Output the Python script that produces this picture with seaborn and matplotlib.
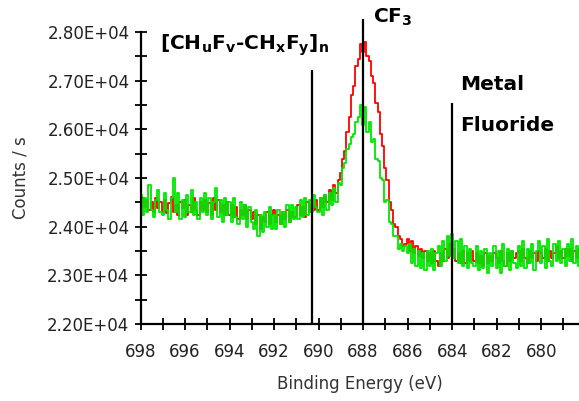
import numpy as np
import pandas as pd
import seaborn as sns
import matplotlib
matplotlib.use("Agg")
import matplotlib.pyplot as plt
from matplotlib.ticker import MultipleLocator, FuncFormatter

# binding energy grid, 0.1 eV steps from 698.0 down to 678.1
energy = np.round(np.arange(698.0, 678.05, -0.1), 1)

counts_red = [
    24250, 24600, 24400, 24550, 24350, 24500, 24300, 24600, 24380, 24500,
    24300, 24550, 24280, 24480, 24620, 24300, 24450, 24250, 24500, 24380,
    24550, 24250, 24450, 24300, 24600, 24350, 24250, 24500, 24350, 24550,
    24300, 24480, 24250, 24600, 24350, 24550, 24300, 24450, 24250, 24500,
    24250, 24450, 24200, 24400, 24150, 24350, 24250, 24450, 24150, 24350,
    24150, 24300, 24050, 24250, 23950, 24200, 24100, 24300, 24050, 24250,
    24350, 24100, 24250, 24050, 24300, 24150, 24350, 24100, 24300, 24200,
    24200, 24450, 24250, 24400, 24200, 24500, 24300, 24450, 24350, 24550,
    24350, 24600, 24400, 24650, 24500, 24750, 24550, 24850, 24700, 24950,
    25100, 25400, 25550, 25950, 26250, 26700, 26900, 27300, 27450, 27750,
    27600, 27800, 27500, 27400, 27100, 26950, 26550, 26350, 25900, 25650,
    25200, 24950, 24500, 24350, 24050, 24000, 23800, 23750, 23600, 23650,
    23750, 23500, 23700, 23450, 23600, 23400, 23550, 23350, 23500, 23300,
    23450, 23250, 23500, 23300, 23200, 23450, 23300, 23550, 23350, 23650,
    23400, 23550, 23300, 23450, 23250, 23500, 23250, 23450, 23300, 23500,
    23300, 23450, 23250, 23400, 23200, 23450, 23250, 23400, 23300, 23450,
    23350, 23250, 23500, 23300, 23200, 23450, 23300, 23500, 23350, 23450,
    23500, 23300, 23550, 23350, 23250, 23500, 23350, 23450, 23300, 23500,
    23450, 23350, 23550, 23300, 23500, 23350, 23450, 23600, 23350, 23500,
    23350, 23550, 23400, 23550, 23300, 23500, 23350, 23550, 23250, 23500,
]

counts_green = [
    24650, 24250, 24600, 24300, 24850, 24350, 24200, 24550, 24750, 24300,
    24250, 24700, 24350, 24150, 24600, 25000, 24300, 24700, 24150, 24550,
    24200, 24650, 24300, 24750, 24250, 24500, 24150, 24600, 24300, 24700,
    24250, 24600, 24150, 24500, 24800, 24200, 24550, 24100, 24600, 24250,
    24500, 24100, 24600, 24200, 24050, 24500, 24150, 24450, 24000, 24400,
    24100, 23950, 24350, 23800, 24250, 23900, 24300, 24000, 24400, 23950,
    24250, 23950, 24350, 24050, 24300, 24000, 24450, 24100, 24450, 24150,
    24400, 24150, 24550, 24200, 24600, 24250, 24550, 24300, 24650, 24400,
    24300, 24600, 24250, 24650, 24350, 24700, 24450, 24800, 24500, 24900,
    24850, 25200, 25300, 25600, 25700, 25850, 25900, 26150, 26250, 26500,
    26100, 26450, 25950, 26150, 25750, 25800, 25400, 25350, 25000, 24950,
    24500, 24550, 24100, 24050, 23800, 23800, 23550, 23650, 23500, 23600,
    23450, 23650, 23250, 23550, 23200, 23500, 23150, 23450, 23100, 23500,
    23200, 23550, 23100, 23450, 23600, 23200, 23700, 23300, 23800, 23400,
    23850, 23350, 23700, 23250, 23750, 23200, 23600, 23150, 23550, 23250,
    23200, 23600, 23100, 23500, 23150, 23550, 23050, 23450, 23200, 23600,
    23150, 23500, 23050, 23650, 23200, 23550, 23100, 23500, 23250, 23150,
    23600, 23200, 23700, 23150, 23550, 23250, 23650, 23100, 23500, 23700,
    23250, 23600, 23150, 23750, 23300, 23200, 23650, 23300, 23700, 23250,
    23550, 23200, 23650, 23300, 23750, 23250, 23600, 23200, 23550, 23650,
]

# reference lines for the assigned species
peak_energy = [690.3, 688.0, 684.0]
peak_top = [27220, 28270, 26540]

df = pd.concat([
    pd.DataFrame({'energy': energy, 'counts': counts_red, 'series': 'red'}),
    pd.DataFrame({'energy': energy, 'counts': counts_green, 'series': 'green'}),
])

sns.set_style("ticks")
plt.rcParams['font.family'] = ['DejaVu Sans']
plt.rcParams['mathtext.fontset'] = 'dejavusans'

fig = plt.figure(figsize=(5.79, 4.01), dpi=100)
ax = fig.add_axes([0.2427, 0.192, 0.7573, 0.728])

sns.lineplot(data=df, x='energy', y='counts', hue='series',
             hue_order=['red', 'green'],
             palette={'red': '#ff0000', 'green': '#00e600'},
             estimator=None, sort=False, drawstyle='steps-mid',
             linewidth=1.3, legend=False, ax=ax)

ax.vlines(peak_energy, 22000, peak_top, colors='black', linewidth=1.6,
          clip_on=False, zorder=5)

ax.set_xlim(698, 678.3)
ax.set_ylim(22000, 28000)
ax.xaxis.set_major_locator(MultipleLocator(2))
ax.xaxis.set_minor_locator(MultipleLocator(1))
ax.yaxis.set_major_locator(MultipleLocator(1000))
ax.yaxis.set_minor_locator(MultipleLocator(500))
ax.yaxis.set_major_formatter(FuncFormatter(lambda v, p: f"{v:.2E}"))
ax.xaxis.set_major_formatter(FuncFormatter(lambda v, p: f"{v:.0f}"))

ax.tick_params(which='both', direction='inout', length=8, width=1.3,
               colors='black', labelcolor='#222222', labelsize=12)
ax.tick_params(axis='x', pad=10)
ax.tick_params(axis='y', pad=4)
for side in ['top', 'right']:
    ax.spines[side].set_visible(False)
for side in ['left', 'bottom']:
    ax.spines[side].set_linewidth(1.6)
    ax.spines[side].set_color('black')

ax.set_xlabel('Binding Energy (eV)', fontsize=12, color='#333333', labelpad=10)
ax.set_ylabel('Counts / s', fontsize=12, color='#333333', labelpad=13)

lab = dict(fontsize=14.5, fontweight='bold', color='black',
           clip_on=False, ha='left', va='center')
ax.text(697.12, 27730,
        r'[CH$_\mathbf{u}$F$_\mathbf{v}$-CH$_\mathbf{x}$F$_\mathbf{y}$]$_\mathbf{n}$',
        **lab)
ax.text(687.55, 28300, r'CF$_\mathbf{3}$', **lab)
ax.text(683.64, 26930, 'Metal', **lab)
ax.text(683.64, 26090, 'Fluoride', **lab)

fig.savefig('out.png', dpi=100)
